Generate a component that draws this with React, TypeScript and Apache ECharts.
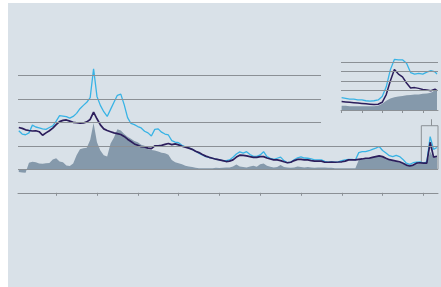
import React, { useEffect, useRef } from "react";
import * as echarts from "echarts";

// ---- main chart data (monthly, decimal years) ----
const START_YEAR = 1997.08;
const LIGHT = [
  1.64, 1.5, 1.47, 1.55, 1.88, 1.8, 1.76, 1.72, 1.7, 1.78, 1.85, 2.05, 2.28, 2.26, 2.24, 2.18, 2.25, 2.38, 2.58, 2.72,
  2.85, 3.05, 4.28, 3.1, 2.72, 2.45, 2.25, 2.55, 2.85, 3.15, 3.2, 2.75, 2.2, 1.95, 1.9, 1.82, 1.76, 1.62, 1.55, 1.42,
  1.7, 1.72, 1.58, 1.5, 1.46, 1.22, 1.16, 1.13, 1.02, 0.96, 0.91, 0.85, 0.77, 0.68, 0.61, 0.54, 0.51, 0.47, 0.43, 0.4,
  0.37, 0.37, 0.4, 0.51, 0.65, 0.74, 0.69, 0.75, 0.63, 0.55, 0.55, 0.61, 0.75, 0.54, 0.47, 0.42, 0.47, 0.52, 0.37, 0.28,
  0.3, 0.4, 0.49, 0.53, 0.48, 0.47, 0.44, 0.4, 0.4, 0.4, 0.34, 0.3, 0.32, 0.3, 0.32, 0.37, 0.4, 0.42, 0.42, 0.4,
  0.71, 0.75, 0.75, 0.79, 0.85, 0.9, 0.97, 0.8, 0.69, 0.58, 0.54, 0.59, 0.54, 0.42, 0.26, 0.21, 0.28, 0.3, 0.32, 0.26,
  0.32, 1.39, 0.85, 0.93,
];
const DARK = [
  1.78, 1.74, 1.68, 1.65, 1.63, 1.64, 1.6, 1.45, 1.55, 1.64, 1.75, 1.9, 2.03, 2.08, 2.1, 2.05, 2.0, 1.98, 1.96, 1.97,
  2.02, 2.12, 2.43, 2.15, 1.89, 1.72, 1.65, 1.6, 1.55, 1.52, 1.48, 1.4, 1.28, 1.18, 1.08, 1.02, 0.96, 0.95, 0.9, 0.88,
  1.0, 1.0, 1.02, 1.06, 1.1, 1.05, 1.08, 1.04, 0.98, 0.94, 0.9, 0.85, 0.77, 0.71, 0.63, 0.56, 0.51, 0.47, 0.43, 0.4,
  0.37, 0.33, 0.35, 0.4, 0.52, 0.6, 0.59, 0.57, 0.54, 0.51, 0.51, 0.54, 0.54, 0.48, 0.44, 0.4, 0.4, 0.37, 0.32, 0.28,
  0.3, 0.37, 0.42, 0.42, 0.4, 0.4, 0.37, 0.35, 0.35, 0.35, 0.3, 0.3, 0.31, 0.3, 0.31, 0.32, 0.35, 0.4, 0.4, 0.4,
  0.42, 0.44, 0.47, 0.47, 0.51, 0.54, 0.57, 0.54, 0.47, 0.41, 0.38, 0.35, 0.32, 0.26, 0.18, 0.14, 0.18, 0.26, 0.28, 0.26,
  0.26, 1.15, 0.52, 0.55,
];
const AREA = [
  -0.12, -0.14, -0.15, 0.28, 0.32, 0.3, 0.25, 0.24, 0.26, 0.27, 0.42, 0.47, 0.33, 0.3, 0.16, 0.14, 0.25, 0.6, 0.85, 0.9,
  0.92, 1.25, 1.97, 1.15, 0.8, 0.6, 0.55, 1.1, 1.35, 1.7, 1.65, 1.5, 1.39, 1.3, 1.2, 1.15, 1.05, 1.0, 0.85, 0.82,
  0.8, 0.76, 0.7, 0.68, 0.62, 0.4, 0.3, 0.26, 0.22, 0.15, 0.12, 0.1, 0.07, 0.05, 0.05, 0.04, 0.04, 0.05, 0.07, 0.06,
  0.07, 0.08, 0.08, 0.12, 0.2, 0.12, 0.1, 0.08, 0.12, 0.15, 0.11, 0.22, 0.25, 0.15, 0.11, 0.08, 0.1, 0.18, 0.1, 0.08,
  0.07, 0.08, 0.12, 0.1, 0.08, 0.1, 0.08, 0.07, 0.08, 0.08, 0.08, 0.07, 0.07, 0.05, 0.05, 0.04, 0.04, 0.04, 0.05, 0.05,
  0.4, 0.42, 0.45, 0.47, 0.49, 0.54, 0.58, 0.55, 0.47, 0.4, 0.35, 0.32, 0.3, 0.24, 0.18, 0.14, 0.16, 0.22, 0.24, 0.24,
  0.26, 0.75, 0.48, 0.5,
];
const YEAR_TICKS = [1998, 1999, 2000, 2001, 2002, 2003, 2004, 2005, 2006, 2007];
const MAIN_GRID_LEVELS_FULL = [0, 1];
const MAIN_GRID_LEVELS_SHORT = [2, 3, 4];

// ---- inset data (months into the boxed period) ----
const INSET_T = [0, 0.2, 0.4, 0.6, 0.8, 1.0, 1.2, 1.4, 1.6, 1.8, 2.0, 2.2, 2.4, 2.6, 2.8, 3.0, 3.2, 3.4, 3.6, 3.8, 4.0, 4.2, 4.4, 4.6, 4.7];
const INSET_LIGHT = [0.32, 0.3, 0.28, 0.28, 0.26, 0.26, 0.24, 0.23, 0.24, 0.26, 0.35, 0.6, 1.04, 1.31, 1.3, 1.3, 1.21, 0.97, 0.93, 0.95, 0.93, 0.98, 1.02, 0.99, 0.93];
const INSET_DARK = [0.22, 0.21, 0.2, 0.19, 0.18, 0.17, 0.16, 0.15, 0.14, 0.15, 0.2, 0.4, 0.75, 1.05, 0.93, 0.86, 0.7, 0.57, 0.58, 0.56, 0.53, 0.52, 0.5, 0.54, 0.5];
const INSET_AREA = [0.11, 0.11, 0.1, 0.1, 0.1, 0.1, 0.1, 0.1, 0.1, 0.11, 0.16, 0.24, 0.3, 0.33, 0.35, 0.36, 0.38, 0.39, 0.4, 0.4, 0.42, 0.43, 0.45, 0.51, 0.49];
const INSET_TICKS = [0, 1, 2, 3, 4];
const INSET_GRID_LEVELS = [0.5, 0.75, 1.0, 1.25];

const BG = "#d9e1e8";
const GRID = "#8b9095";
const AREA_C = "#8599ab";
const LIGHT_C = "#38b3e5";
const DARK_C = "#2c1e5c";

const X_MIN = 1997.061;
const X_MAX = 2007.355;
const X_CUT = 2004.488;
const BOX_X0 = 2006.946;
const BOX_TOP = 1.855;
const POINTER_X = 2007.2;

export default function App() {
  const ref = useRef<HTMLDivElement>(null);
  useEffect(() => {
    if (!ref.current) return;
    const chart = echarts.init(ref.current, null, { renderer: "svg" });
    const dates = LIGHT.map((_, i) => START_YEAR + i / 12);
    const pairs = (xs: number[], ys: number[]) => ys.map((v, i) => [xs[i], v]);
    const lineStyleGrid = { color: GRID, width: 1, type: "solid" as const };
    const mainGridLines = [
      ...MAIN_GRID_LEVELS_FULL.map((v) => [{ coord: [X_MIN, v] }, { coord: [X_MAX, v] }]),
      ...MAIN_GRID_LEVELS_SHORT.map((v) => [{ coord: [X_MIN, v] }, { coord: [X_CUT, v] }]),
      [{ coord: [POINTER_X, BOX_TOP] }, { coord: [POINTER_X, 2.13] }],
    ];
    const insetGridLines = INSET_GRID_LEVELS.map((v) => ({ yAxis: v }));
    const axisCommon = {
      axisLabel: { show: false },
      splitLine: { show: false },
    };
    chart.setOption({
      animation: false,
      graphic: [
        {
          type: "rect",
          shape: { x: 8, y: 3, width: 433, height: 284 },
          style: { fill: BG },
          z: -100,
          silent: true,
        },
      ],
      grid: [
        { left: 18, top: 63.55, width: 420, height: 129.25 },
        { left: 341, top: 57.9, width: 97, height: 52.1 },
      ],
      xAxis: [
        {
          type: "value",
          gridIndex: 0,
          min: X_MIN,
          max: X_MAX,
          axisLine: { show: true, onZero: false, lineStyle: { color: GRID, width: 1 } },
          axisTick: { show: true, length: 3, customValues: YEAR_TICKS, lineStyle: { color: GRID } },
          ...axisCommon,
        },
        {
          type: "value",
          gridIndex: 1,
          min: -0.03,
          max: 4.75,
          axisLine: { show: true, onZero: false, lineStyle: { color: GRID, width: 1 } },
          axisTick: { show: true, length: 3, customValues: INSET_TICKS, lineStyle: { color: GRID } },
          ...axisCommon,
        },
      ],
      yAxis: [
        { type: "value", gridIndex: 0, min: -1, max: 4.5, axisLine: { show: false }, axisTick: { show: false }, ...axisCommon },
        { type: "value", gridIndex: 1, min: 0, max: 1.35, axisLine: { show: false }, axisTick: { show: false }, ...axisCommon },
      ],
      series: [
        {
          type: "line",
          xAxisIndex: 0,
          yAxisIndex: 0,
          data: pairs(dates, AREA),
          symbol: "none",
          lineStyle: { width: 0 },
          areaStyle: { color: AREA_C, opacity: 1 },
          markLine: {
            silent: true,
            symbol: ["none", "none"],
            label: { show: false },
            lineStyle: lineStyleGrid,
            data: mainGridLines,
          },
        },
        {
          type: "line",
          xAxisIndex: 0,
          yAxisIndex: 0,
          data: pairs(dates, LIGHT),
          symbol: "none",
          lineStyle: { width: 1.3, color: LIGHT_C },
          markArea: {
            silent: true,
            itemStyle: { color: "rgba(0,0,0,0)", borderColor: GRID, borderWidth: 1 },
            data: [[{ coord: [BOX_X0, BOX_TOP] }, { coord: [X_MAX, 0] }]],
          },
        },
        {
          type: "line",
          xAxisIndex: 0,
          yAxisIndex: 0,
          data: pairs(dates, DARK),
          symbol: "none",
          lineStyle: { width: 1.7, color: DARK_C },
        },
        {
          type: "line",
          xAxisIndex: 1,
          yAxisIndex: 1,
          data: pairs(INSET_T, INSET_AREA),
          symbol: "none",
          lineStyle: { width: 0 },
          areaStyle: { color: AREA_C, opacity: 1 },
          markLine: {
            silent: true,
            symbol: ["none", "none"],
            label: { show: false },
            lineStyle: lineStyleGrid,
            data: insetGridLines,
          },
        },
        {
          type: "line",
          xAxisIndex: 1,
          yAxisIndex: 1,
          data: pairs(INSET_T, INSET_LIGHT),
          symbol: "none",
          lineStyle: { width: 1.3, color: LIGHT_C },
        },
        {
          type: "line",
          xAxisIndex: 1,
          yAxisIndex: 1,
          data: pairs(INSET_T, INSET_DARK),
          symbol: "none",
          lineStyle: { width: 1.5, color: DARK_C },
        },
      ],
    });
    return () => chart.dispose();
  }, []);
  return (
    <div
      ref={ref}
      style={{ position: "absolute", left: 0, top: 0, width: 441, height: 287 }}
    />
  );
}
